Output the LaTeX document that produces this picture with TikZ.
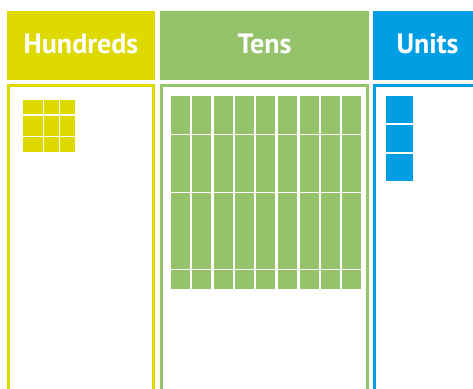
\documentclass[tikz,border=0pt]{standalone}
\usepackage{fontspec}
\setmainfont{PT Sans}
\definecolor{hyellow}{RGB}{222,218,0}
\definecolor{tgreen}{RGB}{149,195,107}
\definecolor{ublue}{RGB}{0,159,227}
\begin{document}
\begin{tikzpicture}[x=1pt,y=-1pt,
  headtext/.style={text=white,anchor=base,inner sep=0pt,font=\fontsize{28}{30}\selectfont\bfseries},
  colbox/.style={draw=#1,line width=3pt}]
\useasboundingbox (0,0) rectangle (473,388);
\begin{scope}
\clip (0,0) rectangle (473,388);
% headers
\fill[hyellow] (7,11) rectangle (155,80);
\fill[tgreen] (160,11) rectangle (369,80);
\fill[ublue] (373,11) rectangle (490,80);
\node[headtext] (hh) at (81,53) {Hundreds};
\node[headtext] (th) at (264.5,53) {Tens};
\node[headtext] (uh) at (427.5,53) {Units};
% column boxes
\draw[colbox=hyellow] (8.5,400) -- (8.5,85.5) -- (153.5,85.5) -- (153.5,400);
\draw[colbox=tgreen] (161.5,400) -- (161.5,85.5) -- (367.5,85.5) -- (367.5,400);
\draw[colbox=ublue] (374.5,400) -- (374.5,85.5) -- (490,85.5);
% hundreds pieces
\foreach \xa/\xb in {22.7/42.7,43.7/59,60.3/75}{
  \foreach \ya/\yb in {100/114,116/136,137/152}{
    \fill[hyellow] (\xa,\ya) rectangle (\xb,\yb);
  }
}
% tens pieces
\foreach \xa/\xb in {170.7/190,191.7/211,214/233,234.7/254,256/275,277.7/297,299.7/319,321/340.3,342/361}{
  \foreach \ya/\yb in {95.7/133.7,134.7/191.7,192.7/269,270/289}{
    \fill[tgreen] (\xa,\ya) rectangle (\xb,\yb);
  }
}
% units pieces
\foreach \ya/\yb in {96/122.7,125/151.7,154/180.7}{
  \fill[ublue] (386,\ya) rectangle (413,\yb);
}
\end{scope}
\end{tikzpicture}
\end{document}
